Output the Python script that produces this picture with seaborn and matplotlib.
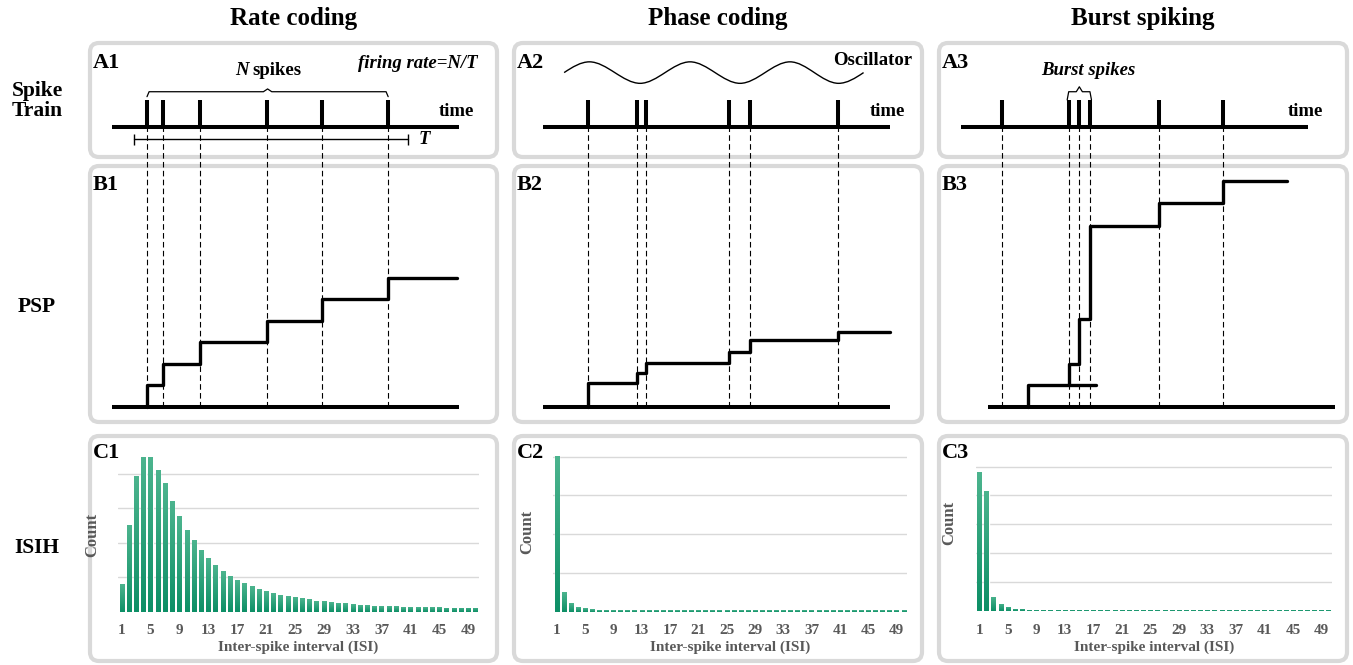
"""Rate / phase / burst coding schematic with ISI histograms."""

import matplotlib.pyplot as plt
import numpy as np
import pandas as pd
import seaborn as sns
from matplotlib.colors import LinearSegmentedColormap
from matplotlib.patches import FancyBboxPatch, PathPatch
from matplotlib.path import Path

# ---- data ----
col_titles = ["Rate coding", "Phase coding", "Burst spiking"]
row_titles = ["Spike\nTrain", "PSP", "ISIH"]

# spike times, time axis runs 0..100
spikes_rate = [10.0, 14.7, 25.2, 44.7, 60.4, 79.5]
spikes_phase = [12.8, 26.9, 29.5, 53.6, 59.6, 84.9]
spikes_burst = [11.7, 31.2, 34.0, 37.1, 57.2, 75.4]

# PSP staircases: step times and level after each step (last point = end of trace)
psp_rate_t = [10.0, 14.7, 25.2, 44.7, 60.4, 79.5, 99.3]
psp_rate_v = [1.0, 2.0, 3.0, 4.0, 5.0, 6.0, 6.0]
psp_phase_t = [12.8, 26.9, 29.5, 53.6, 59.6, 84.9, 100.0]
psp_phase_v = [1.08, 1.55, 2.02, 2.56, 3.10, 3.49, 3.49]
psp_burst_t = [31.2, 34.0, 37.1, 57.2, 75.4, 93.9]
psp_burst_v = [2.0, 4.06, 8.4, 9.46, 10.5, 10.5]
psp_start = [0.0, 0.0, 1.0]
# lone EPSP drawn under B3
psp_single_t = [19.4, 19.4, 38.8]
psp_single_v = [0.0, 1.0, 1.0]

# oscillator extrema (A2)
osc_t = [6.0, 13.3, 27.9, 42.3, 56.7, 71.1, 85.1, 92.3]
osc_v = [0, 1, -1, 1, -1, 1, -1, 0]

# inter-spike interval histograms
isi_bins = list(range(1, 51))
isih_rate = [0.80, 2.50, 3.94, 4.49, 4.49, 4.12, 3.72, 3.22, 2.76, 2.38,
             2.07, 1.78, 1.56, 1.35, 1.17, 1.04, 0.91, 0.83, 0.75, 0.65,
             0.60, 0.54, 0.48, 0.45, 0.42, 0.39, 0.37, 0.31, 0.31, 0.28,
             0.25, 0.25, 0.22, 0.20, 0.20, 0.17, 0.17, 0.17, 0.17, 0.14,
             0.13, 0.13, 0.13, 0.13, 0.13, 0.12, 0.12, 0.12, 0.12, 0.12]
isih_phase = [4.03, 0.50, 0.22, 0.12, 0.086, 0.06, 0.035, 0.035, 0.035, 0.035,
              0.035, 0.035, 0.035, 0.035, 0.035, 0.035, 0.035, 0.035, 0.035, 0.035,
              0.035, 0.035, 0.035, 0.035, 0.035, 0.035, 0.035, 0.035, 0.035, 0.035,
              0.035, 0.035, 0.035, 0.035, 0.035, 0.035, 0.035, 0.035, 0.035, 0.035,
              0.035, 0.035, 0.035, 0.035, 0.035, 0.035, 0.035, 0.035, 0.035, 0.035]
isih_burst = [4.80, 4.16, 0.50, 0.25, 0.15, 0.08, 0.07, 0.035, 0.035, 0.035,
              0.035, 0.035, 0.035, 0.035, 0.035, 0.035, 0.035, 0.035, 0.035, 0.035,
              0.035, 0.035, 0.035, 0.035, 0.035, 0.035, 0.035, 0.035, 0.035, 0.035,
              0.035, 0.035, 0.035, 0.035, 0.035, 0.035, 0.035, 0.035, 0.035, 0.035,
              0.035, 0.035, 0.035, 0.035, 0.035, 0.035, 0.035, 0.035, 0.035, 0.035]

# ---- style ----
sns.set_style("white")
plt.rcParams["font.family"] = ["Liberation Serif", "DejaVu Serif"]
plt.rcParams["font.weight"] = "bold"
plt.rcParams["text.color"] = "black"

W, H = 1353, 665
fig = plt.figure(figsize=(W / 100, H / 100), dpi=100)
fig.patch.set_facecolor("white")

FRAME = "#d9d9d9"
GREY = "#595959"
GREEN_BOTTOM, GREEN_TOP = "#0d8f66", "#4cb48e"

col_x = [(90, 497), (514, 922), (939, 1347)]
row_y = [(43, 157), (166, 422), (436, 661)]
time_origin = [112.3, 543.3, 961.0]  # px of t=0 for each column
SX, SY, BASE = 3.47, 21.5, 406.7     # px per time unit, px per PSP unit, baseline px


def px_axes(x0, y0, x1, y1):
    ax = fig.add_axes([x0 / W, 1 - y1 / H, (x1 - x0) / W, (y1 - y0) / H])
    ax.set_facecolor("none")
    return ax


# background: frames and headings, in pixel coordinates
bg = px_axes(0, 0, W, H)
bg.set_xlim(0, W)
bg.set_ylim(H, 0)
bg.axis("off")
for (x0, x1) in col_x:
    for (y0, y1) in row_y:
        bg.add_patch(FancyBboxPatch((x0, y0), x1 - x0, y1 - y0,
                                    boxstyle="round,pad=0,rounding_size=9",
                                    fc="white", ec=FRAME, lw=3))
for (x0, x1), title in zip(col_x, col_titles):
    bg.text((x0 + x1) / 2, 19, title, ha="center", va="center", fontsize=18)
for y, label in zip([101, 307, 548], row_titles):
    bg.text(37, y, label, ha="center", va="center", fontsize=15.5, linespacing=0.95)
for c, (x0, _) in enumerate(col_x):
    for r, y in enumerate([63, 185, 453]):
        bg.text(x0 + 3, y, f"{'ABC'[r]}{c + 1}", ha="left", va="center", fontsize=16)


def brace(ax, xa, xb, y, y_end, y_tip):
    xm = (xa + xb) / 2
    d = min(1.2, (xb - xa) / 8)
    ax.plot([xa, xa + d / 2, xm - d, xm, xm + d, xb - d / 2, xb],
            [y_end, y, y, y_tip, y, y, y_end], color="k", lw=0.9)


spike_sets = [spikes_rate, spikes_phase, spikes_burst]
psp_sets = [(psp_rate_t, psp_rate_v), (psp_phase_t, psp_phase_v), (psp_burst_t, psp_burst_v)]
baselines = [(0, 100), (0, 100), (7.7, 107.7)]
AXIS_Y, SPIKE_TOP = 13.0, 14.27

diag_axes = []
for c in range(3):
    x0, x1 = col_x[c]
    ax = px_axes(x0, 40, x1, 428)
    ax.set_xlim((x0 - time_origin[c]) / SX, (x1 - time_origin[c]) / SX)
    ax.set_ylim((BASE - 428) / SY, (BASE - 40) / SY)
    ax.axis("off")
    diag_axes.append(ax)

    spikes = spike_sets[c]
    # spike train
    ax.plot([0, 100], [AXIS_Y, AXIS_Y], color="k", lw=2.9, solid_capstyle="butt")
    ax.vlines(spikes, AXIS_Y, SPIKE_TOP, color="k", lw=2.9)
    ax.text(104.4, 13.75, "time", ha="right", va="center", fontsize=13.5)
    # guide lines down to the PSP baseline
    for t in spikes:
        ax.plot([t, t], [0, AXIS_Y], color="k", lw=0.8, ls=(0, (5, 3)))
    # PSP
    ts, vs = psp_sets[c]
    ax.plot(baselines[c], [0, 0], color="k", lw=2.9, solid_capstyle="butt")
    ax.step([ts[0]] + ts, [psp_start[c]] + vs, where="post", color="k", lw=2.4)

# A1 / B1 extras
ax = diag_axes[0]
brace(ax, spikes_rate[0], spikes_rate[-1], 14.65, 14.42, 14.78)
ax.text(44.75 - 4.3, 15.62, "spikes", ha="left", va="center", fontsize=13.5)
ax.text(44.75 - 5.5, 15.62, "N", ha="right", va="center", fontsize=13.5, style="italic")
ax.text(105.2, 15.94, "firing rate=N/T", ha="right", va="center", fontsize=13.5, style="italic")
ax.plot([6.3, 85.3], [12.44, 12.44], color="k", lw=1.0)
ax.vlines([6.3, 85.3], 12.18, 12.70, color="k", lw=1.0)
ax.text(90, 12.44, "T", ha="center", va="center", fontsize=13.5, style="italic")

# A2 oscillator, drawn as cubic Bezier pieces through the extrema
ax = diag_axes[1]
OSC_Y, OSC_A = 15.54, 0.5
verts, codes = [(osc_t[0], OSC_Y + OSC_A * osc_v[0])], [Path.MOVETO]
for i in range(len(osc_t) - 1):
    ta, tb = osc_t[i], osc_t[i + 1]
    ya, yb = OSC_Y + OSC_A * osc_v[i], OSC_Y + OSC_A * osc_v[i + 1]
    dx = tb - ta
    sa = 0 if osc_v[i] != 0 else (yb - ya) / dx * np.pi / 2
    sb = 0 if osc_v[i + 1] != 0 else (yb - ya) / dx * np.pi / 2
    verts += [(ta + dx / 3, ya + sa * dx / 3), (tb - dx / 3, yb - sb * dx / 3), (tb, yb)]
    codes += [Path.CURVE4] * 3
ax.add_patch(PathPatch(Path(verts, codes), fc="none", ec="k", lw=1.0))
ax.text(106.2, 16.08, "Oscillator", ha="right", va="center", fontsize=13.5)

# A3 / B3 extras
ax = diag_axes[2]
brace(ax, spikes_burst[1] - 0.6, spikes_burst[3] + 0.5, 14.65, SPIKE_TOP, 14.88)
ax.text(36.6, 15.63, "Burst spikes", ha="center", va="center", fontsize=13.5, style="italic")
ax.plot(psp_single_t, psp_single_v, color="k", lw=2.4)


# ---- ISI histograms ----
def shade_bars(ax):
    cmap = LinearSegmentedColormap.from_list("bar", [GREEN_BOTTOM, GREEN_TOP])
    grad = np.linspace(0, 1, 64).reshape(-1, 1)
    xl, yl = ax.get_xlim(), ax.get_ylim()
    for bar in list(ax.patches):
        bx, bw, bh = bar.get_x(), bar.get_width(), bar.get_height()
        im = ax.imshow(grad, cmap=cmap, origin="lower", aspect="auto",
                       extent=[bx, bx + bw, 0, bh], zorder=bar.get_zorder() + 0.1)
        im.set_clip_path(bar)
    ax.set_xlim(xl)
    ax.set_ylim(yl)


hist_specs = [
    (isih_rate, (118.1, 479.1), 611.7, 34.5, 4.75, [1, 2, 3, 4], 535),
    (isih_phase, (553.2, 907.2), 611.7, 38.75, 4.1, [1, 2, 3, 4], 532),
    (isih_burst, (975.7, 1332.2), 611.0, 28.9, 5.1, [1, 2, 3, 4, 5], 523),
]
for counts, (hx0, hx1), base, unit, ymax, grid, count_y in hist_specs:
    top = base - ymax * unit
    ax = px_axes(hx0, top, hx1, base)
    df = pd.DataFrame({"isi": isi_bins, "count": counts})
    sns.barplot(data=df, x="isi", y="count", color=GREEN_BOTTOM, saturation=1,
                width=0.6, ax=ax, zorder=3)
    ax.set_xlim(-0.5, 49.5)
    ax.set_ylim(0, ymax)
    ax.set_yticks(grid)
    ax.set_yticklabels([])
    ax.yaxis.grid(True, color=FRAME, lw=1.0)
    ax.set_axisbelow(True)
    ax.set_xticks(range(0, 50, 4))
    ax.set_xticklabels([str(b) for b in isi_bins[::4]])
    ax.tick_params(axis="both", length=0)
    ax.tick_params(axis="x", pad=9, labelsize=11, labelcolor=GREY)
    for lab in ax.get_xticklabels():
        lab.set_fontweight("bold")
    sns.despine(ax=ax, left=True, bottom=True)
    ax.set_xlabel("Inter-spike interval (ISI)", fontsize=11, color=GREY, fontweight="bold")
    ax.xaxis.set_label_coords(0.5, (base - 641) / (ymax * unit))
    ax.set_ylabel("Count", fontsize=12, color=GREY, fontweight="bold")
    ax.yaxis.set_label_coords(-18 / (hx1 - hx0), (base - count_y) / (ymax * unit))
    shade_bars(ax)

fig.savefig("out.png", dpi=100, facecolor="white")
